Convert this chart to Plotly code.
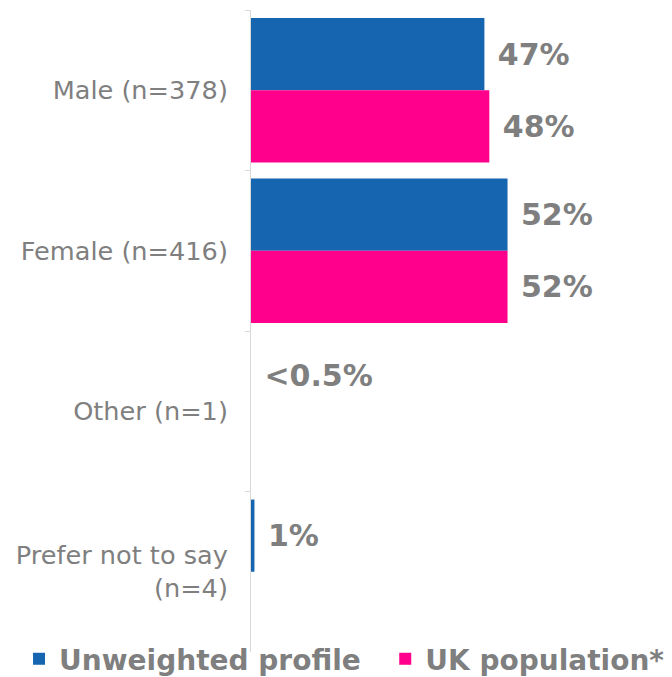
import plotly.graph_objects as go

categories = ["Male (n=378)", "Female (n=416)", "Other (n=1)", "Prefer not to say<br>(n=4)"]
unweighted_values = [47.4, 52.1, 0, 0.7]
unweighted_labels = ["47%", "52%", "<0.5%", "1%"]
uk_values = [48.4, 52.1, None, None]
uk_labels = ["48%", "52%", "", ""]
series_names = ["Unweighted profile", "UK population*"]

BLUE = "#1565B0"
PINK = "#FF008C"
GREY = "#7f7f7f"
FONT = "DejaVu Sans"
NBSP = "\u00a0"

fig = go.Figure()
fig.add_trace(go.Bar(
    name=series_names[0] + NBSP * 2, y=categories, x=unweighted_values, orientation="h",
    marker=dict(color=BLUE, line=dict(width=0)),
    text=[" " + t for t in unweighted_labels], textposition="outside",
    textfont=dict(family=FONT, size=30, color=GREY, weight="bold"),
    cliponaxis=False, hoverinfo="skip",
))
fig.add_trace(go.Bar(
    name=series_names[1], y=categories, x=uk_values, orientation="h",
    marker=dict(color=PINK, line=dict(width=0)),
    text=[(" " + t) if t else "" for t in uk_labels], textposition="outside",
    textfont=dict(family=FONT, size=30, color=GREY, weight="bold"),
    cliponaxis=False, hoverinfo="skip",
))

fig.update_layout(
    width=664, height=669,
    margin=dict(l=243, r=0, t=2, b=25, autoexpand=False),
    paper_bgcolor="white", plot_bgcolor="white",
    barmode="group", bargap=0.1, bargroupgap=0,
    xaxis=dict(range=[0, 85.5], showticklabels=False, showgrid=False,
               zeroline=False, showline=False),
    yaxis=dict(type="category", autorange="reversed", showline=True,
               linecolor="#d9d9d9", linewidth=1, ticks="outside",
               tickson="boundaries", ticklen=5, tickcolor="#d9d9d9",
               showgrid=False, ticklabelstandoff=17,
               tickfont=dict(family=FONT, size=25.6, color=GREY)),
    legend=dict(orientation="h", x=-0.551, xanchor="left", y=-0.011,
                yanchor="middle",
                font=dict(family=FONT, size=28, color=GREY, weight="bold"),
                bgcolor="rgba(0,0,0,0)"),
    showlegend=True,
)

fig.write_html("out.html")
